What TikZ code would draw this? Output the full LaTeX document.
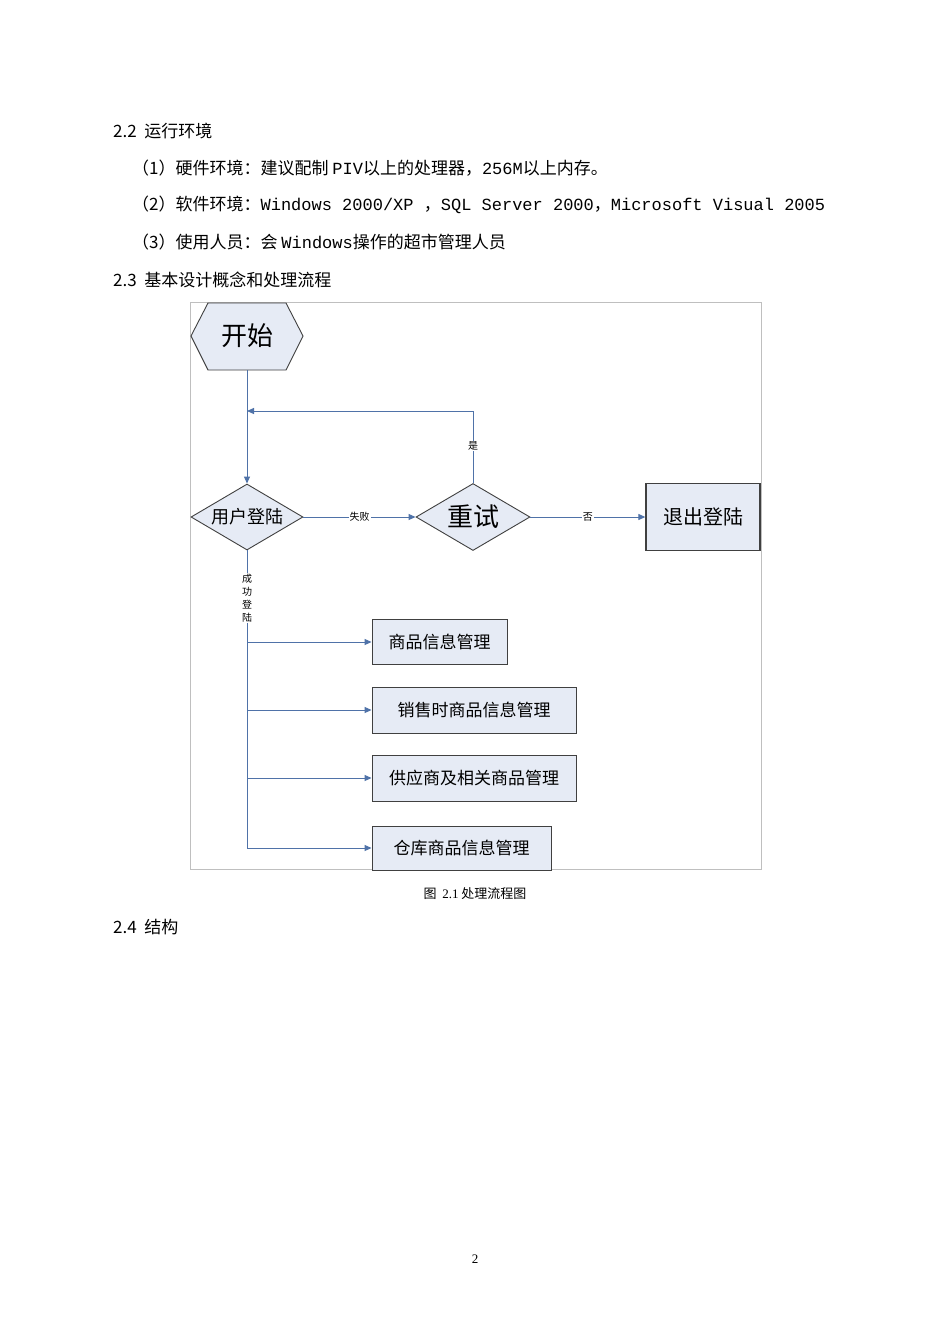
\documentclass[tikz,border=0pt]{standalone}
\usepackage{fontspec}
\setmainfont{Liberation Serif}
\setmonofont{Liberation Mono}
\newfontfamily\cjk{Noto Sans CJK SC}
\usetikzlibrary{shapes.geometric,arrows.meta}
\begin{document}
\begin{tikzpicture}[x=1pt,y=-1pt,
  fc/.style={draw=black!75,line width=0.9pt,fill={rgb,255:red,230;green,235;blue,245},inner sep=0pt,font=\cjk},
  conn/.style={draw={rgb,255:red,79;green,114;blue,168},line width=1pt},
  arr/.style={conn,-{Triangle[length=7pt,width=6pt]}},
  lab/.style={fill=white,inner sep=1pt,font=\cjk\fontsize{10}{10}\selectfont},
  body/.style={anchor=west,inner sep=0pt,font=\ttfamily\fontsize{17}{17}\selectfont},
  head/.style={anchor=west,inner sep=0pt,font=\cjk\fontsize{17}{17}\selectfont}]
\useasboundingbox (0,0) rectangle (950,1344);
\fill[white] (0,0) rectangle (950,1344);
\node[head] (h22) at (113,131) {2.2\ \ 运行环境};
\node[body] (l1) at (132,168) {{\cjk （1）硬件环境：建议配制 }PIV{\cjk 以上的处理器，}256M{\cjk 以上内存。}};
\node[body] (l2) at (132,205) {{\cjk （2）软件环境：}Windows 2000/XP {\cjk ，}SQL  Server 2000{\cjk ，}Microsoft Visual 2005};
\node[body] (l3) at (132,242) {{\cjk （3）使用人员：会 }Windows{\cjk  操作的超市管理人员}};
\node[head] (h23) at (113,280) {2.3\ \ 基本设计概念和处理流程};
\draw[black!25,line width=0.8pt] (190,302) rectangle (761,869);
% nodes
\draw[fc] (191,336) -- (208,303) -- (286,303) -- (303,336) -- (286,370) -- (208,370) -- cycle;
\node[font=\cjk\fontsize{26}{26}\selectfont] (start) at (247,336) {开始};
\node[fc,diamond,minimum width=112pt,minimum height=66pt,aspect=1.7] (login) at (247,517) {};
\node[font=\cjk\fontsize{18}{18}\selectfont] (logint) at (247,517) {用户登陆};
\node[fc,diamond,minimum width=114pt,minimum height=67pt,aspect=1.7] (retry) at (473,517) {};
\node[font=\cjk\fontsize{26}{26}\selectfont] (retryt) at (473,517) {重试};
\node[fc,minimum width=114pt,minimum height=67pt,line width=1.3pt,font=\cjk\fontsize{20}{20}\selectfont] (exit) at (703,517) {退出登陆};
\node[fc,minimum width=135pt,minimum height=45pt,font=\cjk\fontsize{17}{17}\selectfont] (b1) at (439.5,642) {商品信息管理};
\node[fc,minimum width=204pt,minimum height=46pt,font=\cjk\fontsize{17}{17}\selectfont] (b2) at (474,710) {销售时商品信息管理};
\node[fc,minimum width=204pt,minimum height=46pt,font=\cjk\fontsize{17}{17}\selectfont] (b3) at (474,778) {供应商及相关商品管理};
\node[fc,minimum width=179pt,minimum height=44pt,font=\cjk\fontsize{17}{17}\selectfont] (b4) at (461.5,848) {仓库商品信息管理};
% connectors
\coordinate (j) at (247,411);
\draw[arr] (247,370) -- (login.north);
\draw[conn] (retry.north) -- (473,411) -- (256,411);
\draw[arr] (262,411) -- (j);
\node[lab] (shi) at (473,446) {是};
\draw[arr] (login.east) -- node[lab]{失败} (retry.west);
\draw[arr] (retry.east) -- node[lab]{否} (exit.west);
\draw[conn] (login.south) -- (247,848);
\node[lab,align=center,font=\cjk\fontsize{10}{13}\selectfont] (succ) at (247,598) {成\\功\\登\\陆};
\draw[arr] (247,642) -- (b1.west);
\draw[arr] (247,710) -- (b2.west);
\draw[arr] (247,778) -- (b3.west);
\draw[arr] (247,848) -- (b4.west);
\node[font=\cjk\fontsize{13}{13}\selectfont] (cap) at (475,894) {图\ \ {\rmfamily 2.1}\ 处理流程图};
\node[head] (h24) at (113,927) {2.4\ \ 结构};
\node[font=\rmfamily\fontsize{13}{13}\selectfont] (pg) at (475,1259) {2};
\end{tikzpicture}
\end{document}
